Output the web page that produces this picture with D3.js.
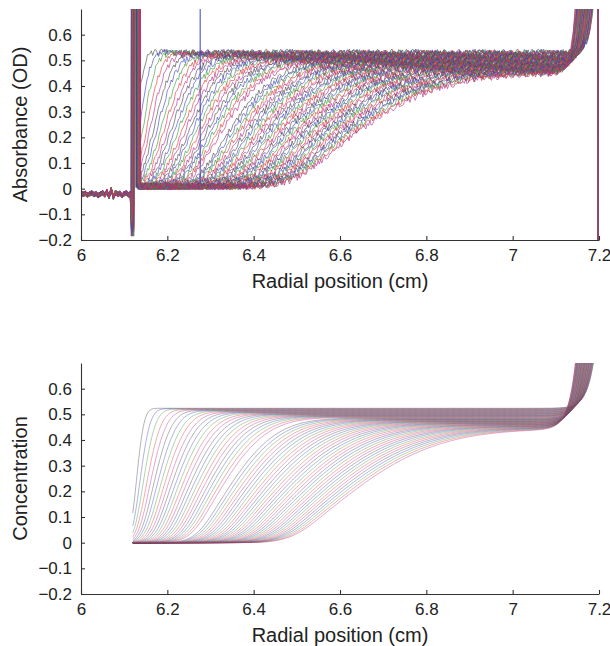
<!DOCTYPE html>
<html><head><meta charset="utf-8">
<script src="https://cdn.jsdelivr.net/npm/d3@7"></script>
<style>
html,body{margin:0;padding:0;background:#fff;}
svg{display:block;}
text{font-family:"Liberation Sans",Arial,Helvetica,sans-serif;fill:#222;}
</style></head><body>
<svg id="chart" width="610" height="646"></svg>
<script>
// ---------- data ----------
const xTicks = [6, 6.2, 6.4, 6.6, 6.8, 7, 7.2];
const xTickLabels = ["6", "6.2", "6.4", "6.6", "6.8", "7", "7.2"];
const yTicks = [-0.2, -0.1, 0, 0.1, 0.2, 0.3, 0.4, 0.5, 0.6];
const yTickLabels = ["\u22120.2", "\u22120.1", "0", "0.1", "0.2", "0.3", "0.4", "0.5", "0.6"];
const xTitle = "Radial position (cm)";
const yTitleTop = "Absorbance (OD)";
const yTitleBottom = "Concentration";
const seriesColors = ["#4a4a4a", "#4646c4", "#3a9a3a", "#e03a3a", "#b23088"];

// boundary position (cm) of each scan (foot/shoulder split point)
const midpoints = [6.1280,6.1352,6.1423,6.1495,6.1566,6.1638,6.1709,6.1781,6.1852,6.1924,
  6.1995,6.2067,6.2138,6.2210,6.2281,6.2353,6.2424,6.2496,6.2567,6.2639,
  6.2710,6.2782,6.2853,6.2925,6.2996,6.3138,6.3209,6.3281,6.3352,6.3424,
  6.3495,6.3567,6.3638,6.3710,6.3781,6.3853,6.3924,6.3996,6.4067,6.4139,
  6.4210,6.4282,6.4353,6.4425,6.4496,6.4568,6.4639,6.4711,6.4782,6.4854,
  6.4925,6.4997,6.5068,6.5140,6.5211,6.5283,6.5354,6.5426,6.5497,6.5569];
// spread (cm) of the lower (foot) side of each boundary
const spreadsLow = [0.0116,0.0144,0.0166,0.0186,0.0202,0.0217,0.0231,0.0244,0.0256,0.0268,
  0.0279,0.0289,0.0299,0.0309,0.0318,0.0328,0.0336,0.0345,0.0353,0.0361,
  0.0369,0.0377,0.0384,0.0392,0.0399,0.0413,0.0420,0.0426,0.0433,0.0439,
  0.0446,0.0452,0.0458,0.0464,0.0470,0.0476,0.0482,0.0488,0.0493,0.0499,
  0.0505,0.0510,0.0516,0.0521,0.0526,0.0532,0.0537,0.0542,0.0547,0.0552,
  0.0557,0.0562,0.0567,0.0572,0.0576,0.0581,0.0586,0.0591,0.0595,0.0600];
// spread (cm) of the upper (shoulder) side of each boundary
const spreadsHigh = [0.0142,0.0193,0.0237,0.0280,0.0319,0.0357,0.0394,0.0430,0.0465,0.0500,
  0.0533,0.0566,0.0599,0.0632,0.0664,0.0697,0.0728,0.0760,0.0790,0.0821,
  0.0852,0.0883,0.0913,0.0944,0.0974,0.1033,0.1063,0.1092,0.1122,0.1151,
  0.1180,0.1209,0.1238,0.1267,0.1296,0.1325,0.1354,0.1383,0.1410,0.1439,
  0.1468,0.1496,0.1525,0.1553,0.1581,0.1610,0.1637,0.1666,0.1693,0.1721,
  0.1749,0.1777,0.1805,0.1833,0.1860,0.1888,0.1915,0.1943,0.1970,0.1998];
// plateau level of each scan
const plateaus = [0.5236,0.5221,0.5206,0.5190,0.5175,0.5159,0.5144,0.5129,0.5114,0.5097,
  0.5083,0.5068,0.5053,0.5037,0.5023,0.5009,0.4994,0.4978,0.4964,0.4950,
  0.4936,0.4921,0.4907,0.4893,0.4879,0.4853,0.4840,0.4826,0.4811,0.4798,
  0.4785,0.4772,0.4757,0.4744,0.4731,0.4718,0.4704,0.4691,0.4678,0.4666,
  0.4652,0.4639,0.4627,0.4615,0.4601,0.4589,0.4577,0.4564,0.4551,0.4539,
  0.4527,0.4516,0.4502,0.4491,0.4479,0.4468,0.4455,0.4444,0.4432,0.4421];
// radius (cm) where each scan's rise at the cell bottom reaches 0.7
const walls = [7.187,7.186,7.186,7.185,7.184,7.183,7.183,7.182,7.181,7.181,
  7.180,7.179,7.178,7.178,7.177,7.176,7.176,7.175,7.174,7.173,
  7.173,7.172,7.171,7.171,7.170,7.169,7.168,7.168,7.167,7.166,
  7.166,7.165,7.164,7.164,7.163,7.162,7.161,7.161,7.160,7.159,
  7.159,7.158,7.157,7.156,7.156,7.155,7.154,7.154,7.153,7.152,
  7.151,7.151,7.150,7.149,7.149,7.148,7.147,7.146,7.146,7.145];
// raw-data extras (top panel)
const leftBaseR = [6.000,6.005,6.010,6.015,6.020,6.025,6.030,6.035,6.040,6.045,6.050,6.055,
  6.060,6.065,6.070,6.075,6.080,6.085,6.090,6.095,6.100,6.105,6.110,6.114];
const leftBaseA = [-0.015,-0.022,-0.018,-0.025,-0.020,-0.017,-0.023,-0.019,-0.026,-0.021,-0.016,-0.024,
  -0.012,-0.030,-0.004,-0.033,-0.015,-0.022,-0.018,-0.027,-0.020,-0.017,-0.024,-0.020];
const meniscusUp = [6.118,6.120,6.122,6.124,6.119,6.121,6.123];
const meniscusDown = [6.126,6.128,6.130,6.132,6.134,6.136,6.127,6.129,6.131,6.133,6.135];
const meniscusDip = [-0.185,-0.12,-0.09,-0.15,-0.07,-0.13,-0.10,-0.16,-0.08,-0.11,-0.14,-0.06,-0.17];
const spikeScan = 41, spikeR = 6.276;
const cellEndR = 7.197;
const noiseTable = [0.3,-0.7,0.9,-0.2,0.5,-0.9,0.1,0.8,-0.4,-0.6,0.7,0.2,-0.8,0.4,-0.1,0.6,-0.5,0.9,-0.3,0.0,
  0.5,-0.9,0.8,-0.6,0.2,0.7,-0.2,-0.7,0.4,0.1,-0.5,0.9,-0.8,0.3,0.6,-0.4,-0.1,0.8,-0.9,0.5,
  0.0,-0.3,0.7,-0.6,0.2,0.9,-0.5,-0.2,0.6,-0.8,0.4,0.1,-0.7,0.8,-0.1,0.3,-0.9,0.5,0.7,-0.4,
  -0.6,0.2,0.9,-0.3,0.1,-0.8,0.6,0.4,-0.5,-0.2,0.8,-0.7,0.3,0.0,-0.9,0.7,0.5,-0.1,-0.6,0.9,
  -0.4,0.2,-0.8,0.6,0.1,-0.3,0.4,-0.7,0.8,-0.5,0.3,-0.2,0.7,-0.9,0.5,-0.6,0.2];

// ---------- drawing ----------
function Phi(z){return 0.5*(1+erf(z/Math.SQRT2));}
function erf(x){const s=x<0?-1:1;x=Math.abs(x);const t=1/(1+0.3275911*x);
  const y=1-(((((1.061405429*t-1.453152027)*t)+1.421413741)*t-0.284496736)*t+0.254829592)*t*Math.exp(-x*x);return s*y;}
function boundary(i,r){
  const a=spreadsLow[i], b=spreadsHigh[i], m=midpoints[i];
  if(r<m) return 2*a/(a+b)*Phi((r-m)/a);
  return 1-2*b/(a+b)*(1-Phi((r-m)/b));
}
function model(i,r,lam){
  return plateaus[i]*boundary(i,r)+(0.7-plateaus[i])*Math.exp((r-walls[i])/lam);
}
const svg=d3.select("#chart");
const x=d3.scaleLinear().domain([6,7.2]).range([81,599]);
const panels=[
  {y:d3.scaleLinear().domain([-0.2,0.7]).range([240,9]),title:yTitleTop,id:"top"},
  {y:d3.scaleLinear().domain([-0.2,0.7]).range([594,363]),title:yTitleBottom,id:"bot"}
];
panels.forEach(p=>{
  const [y1,y0]=p.y.range();
  svg.append("clipPath").attr("id","clip-"+p.id).append("rect")
    .attr("x",81).attr("y",y0).attr("width",519).attr("height",y1-y0);
});
const N=midpoints.length;
// top panel: raw absorbance scans
const topPanel=panels[0];
const gTop=svg.append("g").attr("clip-path","url(#clip-top)");
const lineTop=d3.line().x(d=>x(d[0])).y(d=>topPanel.y(d[1]));
for(let i=0;i<N;i++){
  const pts=[];
  let k=0;
  const nz=()=>noiseTable[(k++*7+i*31)%noiseTable.length]*0.013;
  leftBaseR.forEach((r,j)=>pts.push([r,leftBaseA[j]+nz()*0.8]));
  const up=meniscusUp[i%meniscusUp.length], dn=meniscusDown[i%meniscusDown.length];
  pts.push([up-0.0015,meniscusDip[i%meniscusDip.length]]);
  pts.push([up,3]);pts.push([dn,3]);
  pts.push([dn+0.002,0.014+nz()]);
  for(let r=dn+0.004;r<cellEndR-0.001;r+=0.003){
    if(i===spikeScan && Math.abs(r-spikeR)<0.0015){pts.push([spikeR,0.012]);pts.push([spikeR,3]);pts.push([spikeR+0.0004,0.012]);}
    pts.push([r,0.008+model(i,r,0.011)+nz()]);
  }
  pts.push([cellEndR,5]);pts.push([cellEndR+0.0004,-1]);
  gTop.append("path").attr("d",lineTop(pts)).attr("fill","none")
    .attr("stroke",seriesColors[i%seriesColors.length]).attr("stroke-width",0.75).attr("stroke-opacity",0.85);
}
// bottom panel: fitted concentration profiles
const botPanel=panels[1];
const gBot=svg.append("g").attr("clip-path","url(#clip-bot)");
const lineBot=d3.line().x(d=>x(d[0])).y(d=>botPanel.y(d[1]));
for(let i=0;i<N;i++){
  const pts=[];
  for(let r=6.12;r<=7.2;r+=0.002) pts.push([r,model(i,r,0.017)]);
  gBot.append("path").attr("d",lineBot(pts)).attr("fill","none")
    .attr("stroke",seriesColors[i%seriesColors.length]).attr("stroke-width",0.6).attr("stroke-opacity",0.7);
}
// axes
panels.forEach(p=>{
  const [y1,y0]=p.y.range();
  const ax=svg.append("g").attr("transform",`translate(0,${y1})`)
    .call(d3.axisBottom(x).tickValues(xTicks).tickFormat((d,i)=>xTickLabels[i]).tickSizeInner(-4).tickSizeOuter(0).tickPadding(9));
  const ay=svg.append("g").attr("transform",`translate(81,0)`)
    .call(d3.axisLeft(p.y).tickValues(yTicks).tickFormat((d,i)=>yTickLabels[i]).tickSizeInner(-4).tickSizeOuter(0).tickPadding(9));
  [ax,ay].forEach(a=>{a.selectAll("path,line").attr("stroke","#333").attr("stroke-width",1.1);
    a.selectAll("text").attr("font-size",17).attr("fill","#222").attr("font-family",'"Liberation Sans",Arial,Helvetica,sans-serif');});
  svg.append("text").attr("x",(81+599)/2).attr("y",y1+48).attr("text-anchor","middle")
    .attr("font-size",20).text(xTitle);
  svg.append("text").attr("transform",`translate(27,${(y0+y1)/2}) rotate(-90)`).attr("text-anchor","middle")
    .attr("font-size",20).text(p.title);
});
</script>
</body></html>
